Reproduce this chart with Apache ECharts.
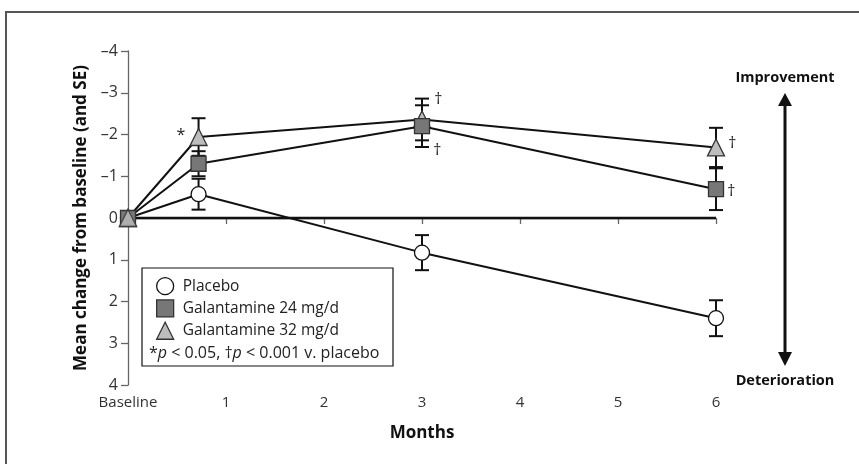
<!DOCTYPE html>
<html>
<head>
<meta charset="utf-8">
<script src="https://cdn.jsdelivr.net/npm/echarts@6/dist/echarts.min.js"></script>
<style>
html,body{margin:0;padding:0;background:#fff;}
#chart{width:859px;height:464px;}
</style>
</head>
<body>
<div id="chart"></div>
<script>
// ---- data ----
const months = [0, 0.72, 3, 6];
const xTickLabels = ['Baseline', '1', '2', '3', '4', '5', '6'];
const placebo = [0, -0.57, 0.83, 2.40];
const placeboSE = [0, 0.37, 0.42, 0.43];
const gal24 = [0, -1.30, -2.20, -0.69];
const gal24SE = [0, 0.30, 0.50, 0.50];
const gal32 = [0, -1.94, -2.36, -1.69];
const gal32SE = [0, 0.45, 0.50, 0.47];
const gal24Marks = ['', '', '†', '†'];
const gal32Marks = ['', '*', '†', '†'];
const zeroLine = [[0, 0], [6, 0]];
const seriesNames = ['Placebo', 'Galantamine 24 mg/d', 'Galantamine 32 mg/d'];

const FONT = '"Open Sans", Lato, sans-serif';

function pts(vals) { return months.map((m, i) => [m, vals[i]]); }
function bars(vals, se) {
  return months.map((m, i) => [m, vals[i] - se[i], vals[i] + se[i]]).filter((d, i) => se[i] > 0);
}

function errRender(params, api) {
  const x = api.value(0);
  const lo = api.coord([x, api.value(1)]);
  const hi = api.coord([x, api.value(2)]);
  const w = 7;
  const st = { stroke: '#111', lineWidth: 2 };
  return {
    type: 'group',
    children: [
      { type: 'line', shape: { x1: lo[0], y1: lo[1], x2: hi[0], y2: hi[1] }, style: st },
      { type: 'line', shape: { x1: lo[0] - w, y1: lo[1], x2: lo[0] + w, y2: lo[1] }, style: st },
      { type: 'line', shape: { x1: hi[0] - w, y1: hi[1], x2: hi[0] + w, y2: hi[1] }, style: st }
    ]
  };
}

const styles = {
  placebo: { color: '#ffffff', borderColor: '#111', borderWidth: 1.3 },
  g24: { color: '#777777', borderColor: '#333', borderWidth: 1.3 },
  g32: { color: '#bdbdbd', borderColor: '#333', borderWidth: 1.3 }
};

function markData(vals, marks, place) {
  return months.map((m, i) => {
    const d = { value: [m, vals[i]] };
    if (marks[i]) {
      d.label = {
        show: true, formatter: marks[i], fontSize: 16, color: '#222', fontFamily: FONT,
        position: marks[i] === '*' ? 'left' : 'right',
        offset: marks[i] === '*' ? [1, -2] : [-2, place(i)]
      };
    }
    return d;
  });
}

const chart = echarts.init(document.getElementById('chart'), null, { renderer: 'canvas' });
const option = {
  backgroundColor: '#fff',
  animation: false,
  textStyle: { fontFamily: FONT },
  grid: { left: 128, right: 143, top: 51, bottom: 79, containLabel: false },
  xAxis: {
    type: 'value', min: 0, max: 6, interval: 1,
    name: 'Months', nameLocation: 'middle', nameGap: 40,
    nameTextStyle: { fontSize: 17, fontWeight: 'bold', color: '#111', fontFamily: FONT },
    axisLine: { lineStyle: { color: '#666', width: 1.3 } },
    axisTick: { length: 6, lineStyle: { color: '#666', width: 1.3 } },
    axisLabel: { fontSize: 15, color: '#333', margin: 10, fontFamily: FONT,
      formatter: v => xTickLabels[Math.round(v)] },
    splitLine: { show: false }
  },
  yAxis: {
    type: 'value', min: -4, max: 4, interval: 1, inverse: true,
    name: 'Mean change from baseline (and SE)', nameLocation: 'middle', nameGap: 30,
    nameTextStyle: { fontSize: 17, fontWeight: 'bold', color: '#111', fontFamily: FONT },
    axisLine: { show: true, lineStyle: { color: '#666', width: 1.3 } },
    axisTick: { show: true, length: 7, lineStyle: { color: '#666', width: 1.3 } },
    axisLabel: { fontSize: 16, color: '#333', margin: 10, fontFamily: FONT,
      formatter: v => (v < 0 ? '\u2013' + Math.abs(v) : String(v)) },
    splitLine: { show: false }
  },
  legend: {
    orient: 'vertical', left: 151, top: 272, itemWidth: 17, itemHeight: 17, itemGap: 4,
    textStyle: { fontSize: 15.5, color: '#222', fontFamily: FONT, padding: [0, 0, 0, 4] },
    data: [
      { name: seriesNames[0], icon: 'circle', itemStyle: styles.placebo },
      { name: seriesNames[1], icon: 'rect', itemStyle: styles.g24 },
      { name: seriesNames[2], icon: 'triangle', itemStyle: styles.g32 }
    ],
    selectedMode: false
  },
  graphic: [
    { type: 'rect', shape: { x: 6, y: 12, width: 900, height: 500 }, style: { fill: null, stroke: '#555', lineWidth: 2 }, silent: true },
    { type: 'rect', shape: { x: 142, y: 268, width: 251, height: 98 }, style: { fill: '#fff', stroke: '#111', lineWidth: 1.2 }, z: 0, silent: true },
    { type: 'text', x: 149, y: 353, z: 10, style: {
      text: '*{i|p} < 0.05, †{i|p} < 0.001 v. placebo', fontSize: 16, fill: '#222', fontFamily: FONT, verticalAlign: 'middle',
      rich: { i: { fontStyle: 'italic', fontSize: 16, fill: '#222', fontFamily: FONT } } } },
    { type: 'line', shape: { x1: 785, y1: 104, x2: 785, y2: 352 }, style: { stroke: '#111', lineWidth: 3 } },
    { type: 'polygon', shape: { points: [[785, 93], [778, 106], [792, 106]] }, style: { fill: '#111' } },
    { type: 'polygon', shape: { points: [[785, 366], [778, 352], [792, 352]] }, style: { fill: '#111' } },
    { type: 'text', x: 785, y: 78, style: { text: 'Improvement', fontSize: 14.5, fontWeight: 'bold', fill: '#111', fontFamily: FONT, align: 'center', verticalAlign: 'middle' } },
    { type: 'text', x: 785, y: 381, style: { text: 'Deterioration', fontSize: 14.5, fontWeight: 'bold', fill: '#111', fontFamily: FONT, align: 'center', verticalAlign: 'middle' } }
  ],
  series: [
    { type: 'custom', name: 'err-p', renderItem: errRender, data: bars(placebo, placeboSE), z: 1, encode: { x: 0, y: [1, 2] } },
    { type: 'custom', name: 'err-24', renderItem: errRender, data: bars(gal24, gal24SE), z: 1, encode: { x: 0, y: [1, 2] } },
    { type: 'custom', name: 'err-32', renderItem: errRender, data: bars(gal32, gal32SE), z: 1, encode: { x: 0, y: [1, 2] } },
    { type: 'line', name: 'zero', data: zeroLine, symbol: 'none', lineStyle: { color: '#111', width: 2.5 }, z: 2 },
    { type: 'line', name: seriesNames[0], data: pts(placebo), symbol: 'circle', symbolSize: 15,
      lineStyle: { color: '#111', width: 2 }, itemStyle: styles.placebo, z: 3 },
    { type: 'line', name: seriesNames[2], data: markData(gal32, gal32Marks, i => (i === 2 ? -20 : -4)), symbol: 'triangle', symbolSize: 17,
      lineStyle: { color: '#111', width: 2 }, itemStyle: styles.g32, z: 4 },
    { type: 'line', name: seriesNames[1], data: markData(gal24, gal24Marks, i => (i === 2 ? 24 : 2)), symbol: 'rect', symbolSize: 15,
      lineStyle: { color: '#111', width: 2 }, itemStyle: styles.g24, z: 5 },
    { type: 'scatter', name: 'base32', data: [[months[0], gal32[0]]], symbol: 'triangle', symbolSize: 17,
      itemStyle: styles.g32, z: 6 }
  ]
};
chart.setOption(option);
</script>
</body>
</html>
